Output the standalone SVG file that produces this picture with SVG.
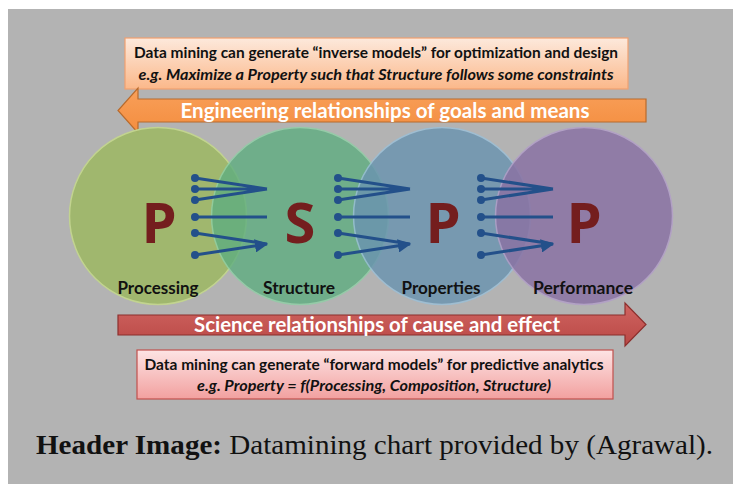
<svg xmlns="http://www.w3.org/2000/svg" width="733" height="484" viewBox="0 0 733 484">
<defs>
<linearGradient id="gTop" x1="0" y1="0" x2="0" y2="1"><stop offset="0" stop-color="#fde9dc"/><stop offset="1" stop-color="#fbb88a"/></linearGradient>
<linearGradient id="gBot" x1="0" y1="0" x2="0" y2="1"><stop offset="0" stop-color="#fde4e4"/><stop offset="1" stop-color="#f2a09f"/></linearGradient>
<linearGradient id="gRed" x1="0" y1="0" x2="0" y2="1"><stop offset="0" stop-color="#d06461"/><stop offset="1" stop-color="#b94845"/></linearGradient>
<linearGradient id="gOr" x1="0" y1="0" x2="0" y2="1"><stop offset="0" stop-color="#f9a05a"/><stop offset="1" stop-color="#f38d3f"/></linearGradient>
<marker id="ah" viewBox="0 0 10 10" refX="9" refY="5" markerWidth="4.5" markerHeight="4.5" orient="auto" markerUnits="strokeWidth"><path d="M0,0 L10,5 L0,10 z" fill="#23508a"/></marker>
<style>
.lbl{font-family:Lato,"Open Sans","Liberation Sans",sans-serif;font-weight:bold;font-size:16.5px;fill:#111;text-anchor:middle}
.big{font-family:"Open Sans","Liberation Sans",sans-serif;font-weight:bold;font-size:56px;fill:#741e1e;text-anchor:middle}
.box{font-family:Lato,"Open Sans","Liberation Sans",sans-serif;font-weight:bold;font-size:14.5px;fill:#111;text-anchor:middle}
.it{font-style:italic}
.arr{font-family:Lato,"Open Sans","Liberation Sans",sans-serif;font-weight:bold;font-size:21px;fill:#fff;text-anchor:middle}
.ln{stroke:#23508a;stroke-width:3;fill:none;marker-end:url(#ah)}
.dot{fill:#23508a}
.cap{font-family:"Liberation Serif","Times New Roman",serif;font-size:27px;fill:#111}
</style>
</defs>
<rect x="0" y="0" width="733" height="484" fill="#ffffff"/>
<rect x="8" y="9" width="725" height="475" fill="#b3b3b3"/>

<g id="topbox">
<rect x="125" y="38" width="503" height="51" fill="url(#gTop)" stroke="#f0a070" stroke-width="1.2"/>
<text class="box" x="376" y="58" textLength="484" lengthAdjust="spacingAndGlyphs">Data mining can generate “inverse models” for optimization and design</text>
<text class="box it" x="376" y="80" textLength="475" lengthAdjust="spacingAndGlyphs">e.g. Maximize a Property such that Structure  follows some constraints</text>
</g>

<g id="engineering-arrow">
<path d="M646,99 L138,99 L138,88 L118,110.5 L138,133 L138,122 L646,122 Z" fill="url(#gOr)" stroke="#b86a2c" stroke-width="1.2"/>
<text class="arr" x="385" y="118" textLength="409" lengthAdjust="spacingAndGlyphs">Engineering relationships of goals and means</text>
</g>

<g id="processing">
<circle cx="158" cy="216" r="88.5" fill="#a0b86c" stroke="#c3d58f" stroke-width="1.5" opacity="0.97"/>
<text class="big" x="159" y="243">P</text>
<text class="lbl" x="158" y="294" textLength="81" lengthAdjust="spacingAndGlyphs">Processing</text>
</g>
<g id="structure">
<circle cx="300" cy="216" r="88.5" fill="#5fae80" stroke="#8fd0a6" stroke-width="1.5" opacity="0.8"/>
<text class="big" x="300" y="243">S</text>
<text class="lbl" x="299" y="294" textLength="72" lengthAdjust="spacingAndGlyphs">Structure</text>
</g>
<g id="properties">
<circle cx="442" cy="216" r="88.5" fill="#6b94b0" stroke="#9bc0d8" stroke-width="1.5" opacity="0.82"/>
<text class="big" x="443" y="243">P</text>
<text class="lbl" x="441" y="294" textLength="79" lengthAdjust="spacingAndGlyphs">Properties</text>
</g>
<g id="performance">
<circle cx="584" cy="216" r="88.5" fill="#8a73a4" stroke="#b29fc8" stroke-width="1.5" opacity="0.85"/>
<text class="big" x="584" y="243">P</text>
<text class="lbl" x="583" y="294" textLength="100" lengthAdjust="spacingAndGlyphs">Performance</text>
</g>

<g id="connectors">
<g id="c1">
<path class="ln" d="M195,178 L267,189 M195,189 L267,189 M195,200 L267,189 M195,217 L267,217 M195,233 L267,244 M195,255 L267,244"/>
<circle class="dot" cx="195" cy="178" r="4"/><circle class="dot" cx="195" cy="189" r="4"/><circle class="dot" cx="195" cy="200" r="4"/><circle class="dot" cx="195" cy="217" r="4"/><circle class="dot" cx="195" cy="233" r="4"/><circle class="dot" cx="195" cy="255" r="4"/>
</g>
<g id="c2">
<path class="ln" d="M338,178 L410,189 M338,189 L410,189 M338,200 L410,189 M338,217 L410,217 M338,233 L410,244 M338,255 L410,244"/>
<circle class="dot" cx="338" cy="178" r="4"/><circle class="dot" cx="338" cy="189" r="4"/><circle class="dot" cx="338" cy="200" r="4"/><circle class="dot" cx="338" cy="217" r="4"/><circle class="dot" cx="338" cy="233" r="4"/><circle class="dot" cx="338" cy="255" r="4"/>
</g>
<g id="c3">
<path class="ln" d="M481,178 L553,189 M481,189 L553,189 M481,200 L553,189 M481,217 L553,217 M481,233 L553,244 M481,255 L553,244"/>
<circle class="dot" cx="481" cy="178" r="4"/><circle class="dot" cx="481" cy="189" r="4"/><circle class="dot" cx="481" cy="200" r="4"/><circle class="dot" cx="481" cy="217" r="4"/><circle class="dot" cx="481" cy="233" r="4"/><circle class="dot" cx="481" cy="255" r="4"/>
</g>
</g>

<g id="science-arrow">
<path d="M118,315 L625,315 L625,303 L646,324.5 L625,346 L625,335 L118,335 Z" fill="url(#gRed)" stroke="#8c2f2d" stroke-width="1.2"/>
<text class="arr" x="377" y="332" textLength="366" lengthAdjust="spacingAndGlyphs" font-size="19.5">Science relationships of cause and effect</text>
</g>

<g id="bottombox">
<rect x="137" y="350" width="476" height="49" fill="url(#gBot)" stroke="#c0504d" stroke-width="1.2"/>
<text class="box" x="374" y="370" textLength="459" lengthAdjust="spacingAndGlyphs">Data mining can generate “forward models” for predictive analytics</text>
<text class="box it" x="374" y="391" textLength="354" lengthAdjust="spacingAndGlyphs">e.g. Property = f(Processing, Composition,  Structure)</text>
</g>

<text class="cap" x="36" y="454" textLength="677" lengthAdjust="spacingAndGlyphs"><tspan font-weight="bold">Header Image:</tspan> Datamining chart provided by (Agrawal).</text>
</svg>
